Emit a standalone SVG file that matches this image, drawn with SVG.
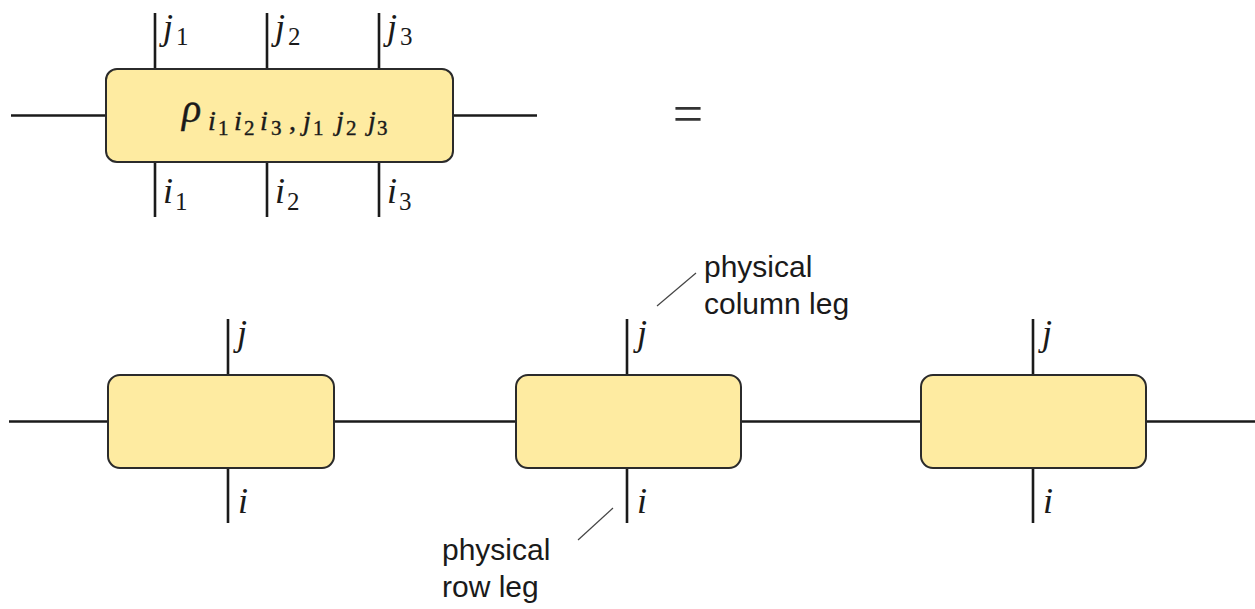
<svg xmlns="http://www.w3.org/2000/svg" width="1255" height="609" viewBox="0 0 1255 609">
<style>
.box{fill:#feeba1;stroke:#2b2b2b;stroke-width:2}
.edge{stroke:#1a1a1a;stroke-width:2.6;fill:none}
.lead{stroke:#444;stroke-width:1.2;fill:none}
.m{font-family:"Liberation Serif","DejaVu Serif",serif;font-style:italic;fill:#1a1a1a}
.n{font-family:"Liberation Serif","DejaVu Serif",serif;font-style:normal}
.s{font-size:28px}
.d{font-size:21px;font-style:normal}
.t{font-family:"Liberation Sans",Arial,sans-serif;font-size:30px;fill:#1a1a1a}
</style>
<rect width="1255" height="609" fill="#fff"/>
<g id="connectors">
<line class="edge" x1="11" y1="115.5" x2="106" y2="115.5"/>
<line class="edge" x1="453" y1="115.5" x2="537" y2="115.5"/>
<line class="edge" x1="155" y1="13" x2="155" y2="69"/>
<line class="edge" x1="267" y1="13" x2="267" y2="69"/>
<line class="edge" x1="379" y1="13" x2="379" y2="69"/>
<line class="edge" x1="155" y1="162" x2="155" y2="217"/>
<line class="edge" x1="267" y1="162" x2="267" y2="217"/>
<line class="edge" x1="379" y1="162" x2="379" y2="217"/>
<line class="edge" x1="9" y1="421.5" x2="108" y2="421.5"/>
<line class="edge" x1="334" y1="421.5" x2="516" y2="421.5"/>
<line class="edge" x1="741" y1="421.5" x2="921" y2="421.5"/>
<line class="edge" x1="1146" y1="421.5" x2="1255" y2="421.5"/>
<line class="edge" x1="228" y1="319" x2="228" y2="375"/>
<line class="edge" x1="228" y1="468" x2="228" y2="523"/>
<line class="edge" x1="627" y1="319" x2="627" y2="375"/>
<line class="edge" x1="627" y1="468" x2="627" y2="523"/>
<line class="edge" x1="1033" y1="319" x2="1033" y2="375"/>
<line class="edge" x1="1033" y1="468" x2="1033" y2="523"/>
<line class="lead" x1="657" y1="306" x2="696" y2="273"/>
<line class="lead" x1="578" y1="540" x2="613" y2="508"/>
</g>
<g id="rho">
<rect class="box" x="106" y="69" width="347" height="93" rx="11"/>
<text class="m" x="182" y="122" font-size="40" stroke="#1a1a1a" stroke-width="0.4">ρ<tspan class="s" x="208" y="130">i</tspan><tspan class="d" x="218" y="135">1</tspan><tspan class="s" x="234" y="130">i</tspan><tspan class="d" x="244" y="135">2</tspan><tspan class="s" x="260" y="130">i</tspan><tspan class="d" x="271" y="135">3</tspan><tspan class="s" x="289" y="130" font-style="normal">,</tspan><tspan class="s" x="303" y="130">j</tspan><tspan class="d" x="313" y="135">1</tspan><tspan class="s" x="336" y="130">j</tspan><tspan class="d" x="346" y="135">2</tspan><tspan class="s" x="368" y="130">j</tspan><tspan class="d" x="377" y="135">3</tspan></text>
<text class="m" x="163" y="39" font-size="36">j<tspan class="n" font-size="25" dx="3" dy="6">1</tspan></text>
<text class="m" x="275" y="39" font-size="36">j<tspan class="n" font-size="25" dx="3" dy="6">2</tspan></text>
<text class="m" x="387" y="39" font-size="36">j<tspan class="n" font-size="25" dx="3" dy="6">3</tspan></text>
<text class="m" x="163" y="203" font-size="36">i<tspan class="n" font-size="25" dx="2" dy="7">1</tspan></text>
<text class="m" x="275" y="203" font-size="36">i<tspan class="n" font-size="25" dx="2" dy="7">2</tspan></text>
<text class="m" x="387" y="203" font-size="36">i<tspan class="n" font-size="25" dx="2" dy="7">3</tspan></text>
</g>
<g id="equals">
<text class="n" x="688" y="132" font-size="54" text-anchor="middle" fill="#333">=</text>
</g>
<g id="site1">
<rect class="box" x="108" y="375" width="226" height="93" rx="12"/>
<text class="m" x="237" y="345" font-size="36">j</text>
<text class="m" x="238" y="513" font-size="36">i</text>
</g>
<g id="site2">
<rect class="box" x="516" y="375" width="225" height="93" rx="12"/>
<text class="m" x="637" y="345" font-size="36">j</text>
<text class="m" x="637" y="513" font-size="36">i</text>
</g>
<g id="site3">
<rect class="box" x="921" y="375" width="225" height="93" rx="12"/>
<text class="m" x="1042" y="345" font-size="36">j</text>
<text class="m" x="1043" y="513" font-size="36">i</text>
</g>
<g id="label-column">
<text class="t" x="704" y="277">physical</text>
<text class="t" x="704" y="314">column leg</text>
</g>
<g id="label-row">
<text class="t" x="442" y="560">physical</text>
<text class="t" x="442" y="597">row leg</text>
</g>
</svg>
